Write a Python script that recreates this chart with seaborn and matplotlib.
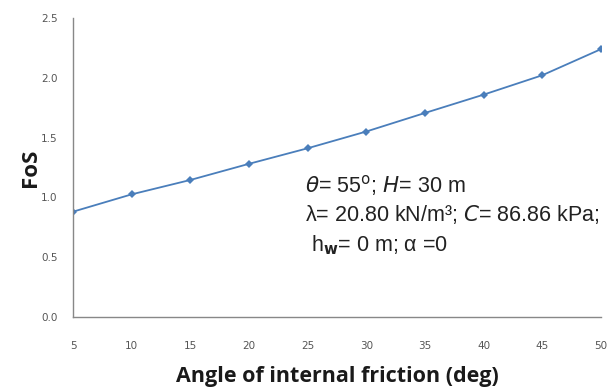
import matplotlib
matplotlib.use("Agg")
import matplotlib.pyplot as plt
import seaborn as sns
import pandas as pd

angles = [5, 10, 15, 20, 25, 30, 35, 40, 45, 50]
fos = [0.88, 1.025, 1.145, 1.28, 1.41, 1.55, 1.705, 1.858, 2.02, 2.238]
x_ticks = [5, 10, 15, 20, 25, 30, 35, 40, 45, 50]
y_ticks = [0.0, 0.5, 1.0, 1.5, 2.0, 2.5]

sns.set_theme(style="white")
plt.rcParams['font.family'] = ['DejaVu Sans']

df = pd.DataFrame({"angle": angles, "fos": fos})

fig = plt.figure(figsize=(6.15, 3.88), dpi=100)
ax = fig.add_axes([0.1187, 0.183, 0.8583, 0.771])
sns.lineplot(data=df, x="angle", y="fos", ax=ax, color="#4a7ebb", linewidth=1.3,
             marker="D", markersize=4.5, markeredgewidth=0)

ax.set_xlim(5, 50)
ax.set_ylim(0, 2.5)
ax.set_xticks(x_ticks)
ax.set_xticklabels([str(v) for v in x_ticks])
ax.set_yticks(y_ticks)
ax.set_yticklabels([f"{v:.1f}" for v in y_ticks])
ax.tick_params(axis="both", labelsize=7.5, labelcolor="#555555", length=0)
ax.tick_params(axis="x", pad=17)
ax.tick_params(axis="y", pad=11)
for s in ["top", "right"]:
    ax.spines[s].set_visible(False)
for s in ["left", "bottom"]:
    ax.spines[s].set_color("#888888")
    ax.spines[s].set_linewidth(1.0)

ax.set_xlabel("Angle of internal friction (deg)", fontsize=15.5, fontweight="bold",
              family=["Open Sans", "DejaVu Sans"], labelpad=11, color="#1a1a1a")
ax.set_ylabel("FoS", fontsize=16, fontweight="bold", family=["Open Sans", "DejaVu Sans"],
              labelpad=0, color="#1a1a1a")

tfont = dict(fontsize=15.5, color="#222222", family=["Liberation Sans", "DejaVu Sans"],
             va="center", ha="left")
ax.text(0.44, 0.441, r"$\mathit{\theta}$= 55$^{\mathrm{o}}$; $\mathit{H}$= 30 m",
        transform=ax.transAxes, **tfont)
ax.text(0.44, 0.341, r"λ= 20.80 kN/m³; $\mathit{C}$= 86.86 kPa;",
        transform=ax.transAxes, **tfont)
ax.text(0.45, 0.241, r"h$_{\mathbf{w}}$= 0 m; α =0",
        transform=ax.transAxes, **tfont)

fig.savefig("out.png", dpi=100)
